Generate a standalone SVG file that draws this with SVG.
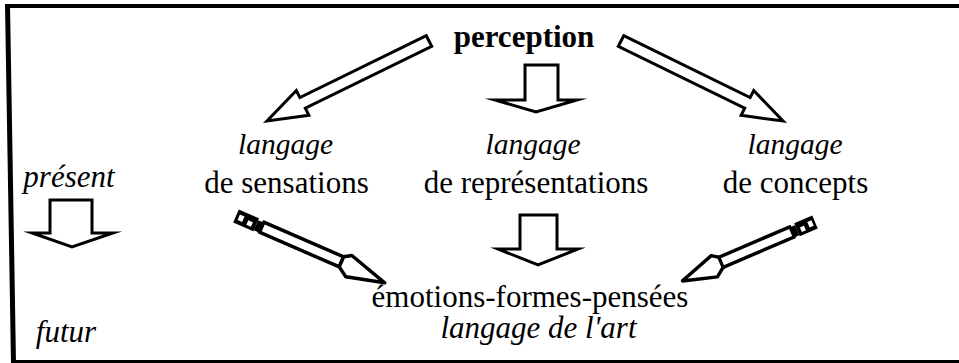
<svg xmlns="http://www.w3.org/2000/svg" width="959" height="363" viewBox="0 0 959 363">
<style>
.t{font-family:"Liberation Serif","Times New Roman",serif;font-size:31px;fill:#000}
.i{font-style:italic}
.b{font-weight:bold}
.lg{font-size:29.5px}
.big{font-size:31px}
.arw{fill:#fff;stroke:#000;stroke-width:3;stroke-linejoin:miter;stroke-miterlimit:8}
.pen{fill:#fff;stroke:#000;stroke-width:3.5;stroke-linejoin:round}
</style>
<defs>
<g id="pencil">
<path d="M0,-7 L22,-7 L22,7 L0,7 Z" fill="#000"/>
<rect x="3" y="-3" width="5" height="6" fill="#fff"/>
<rect x="13" y="-1" width="5" height="5" fill="#fff"/>
<path d="M22,-5 L28,-5 L28,6 L22,6 Z" fill="#000"/>
<path class="pen" d="M28,-5.5 H115 V5.5 H28 Z"/>
<path class="pen" d="M115,-5.5 L122,-10 L163,2 L125,12 L115,5.5 Z"/>
</g>
</defs>
<rect x="0" y="0" width="959" height="363" fill="#fff"/>
<g id="frame" fill="#000">
<rect x="5" y="4" width="954" height="4"/>
<polygon points="5,4 10,4 16,363 11,363"/>
<rect x="11" y="360" width="948" height="3"/>
</g>
<g id="connectors">
<polygon class="arw" points="426.3,35.7 299.9,97.6 296.3,90.5 267,121 308.9,115.3 305.3,108.2 431.7,46.3"/>
<polygon class="arw" points="623.7,35.7 750.1,97.6 753.7,90.5 783,121 741.1,115.3 744.7,108.2 618.3,46.3"/>
<path class="arw" d="M525,65 H558 V100 H577 L536,112 L495,100 H525 Z"/>
<path class="arw" d="M520,215 H557 V249 H578 L538,265 L498,249 H520 Z"/>
<path class="arw" d="M50,200 H92 V233 H113 L72,247 L32,233 H50 Z"/>
<use href="#pencil" transform="translate(236,216) rotate(23.5)"/>
<use href="#pencil" transform="translate(815,222) scale(-1,1) rotate(23.2) scale(0.89,1)"/>
</g>
<g id="node-perception"><text class="t b" x="524" y="47" text-anchor="middle">perception</text></g>
<g id="node-sensations">
<text class="t i lg" x="285.5" y="154" text-anchor="middle">langage</text>
<text class="t" x="286.5" y="193" text-anchor="middle">de sensations</text>
</g>
<g id="node-representations">
<text class="t i lg" x="533" y="154" text-anchor="middle">langage</text>
<text class="t" x="536" y="193" text-anchor="middle">de représentations</text>
</g>
<g id="node-concepts">
<text class="t i lg" x="795" y="154" text-anchor="middle">langage</text>
<text class="t" x="795.5" y="193" text-anchor="middle">de concepts</text>
</g>
<g id="node-emotions">
<text class="t big" x="530" y="307" text-anchor="middle">émotions-formes-pensées</text>
<text class="t i big" x="538.5" y="338" text-anchor="middle">langage de l'art</text>
</g>
<g id="node-present"><text class="t i" x="69" y="187" text-anchor="middle">présent</text></g>
<g id="node-futur"><text class="t i" x="66" y="342" text-anchor="middle">futur</text></g>
</svg>
